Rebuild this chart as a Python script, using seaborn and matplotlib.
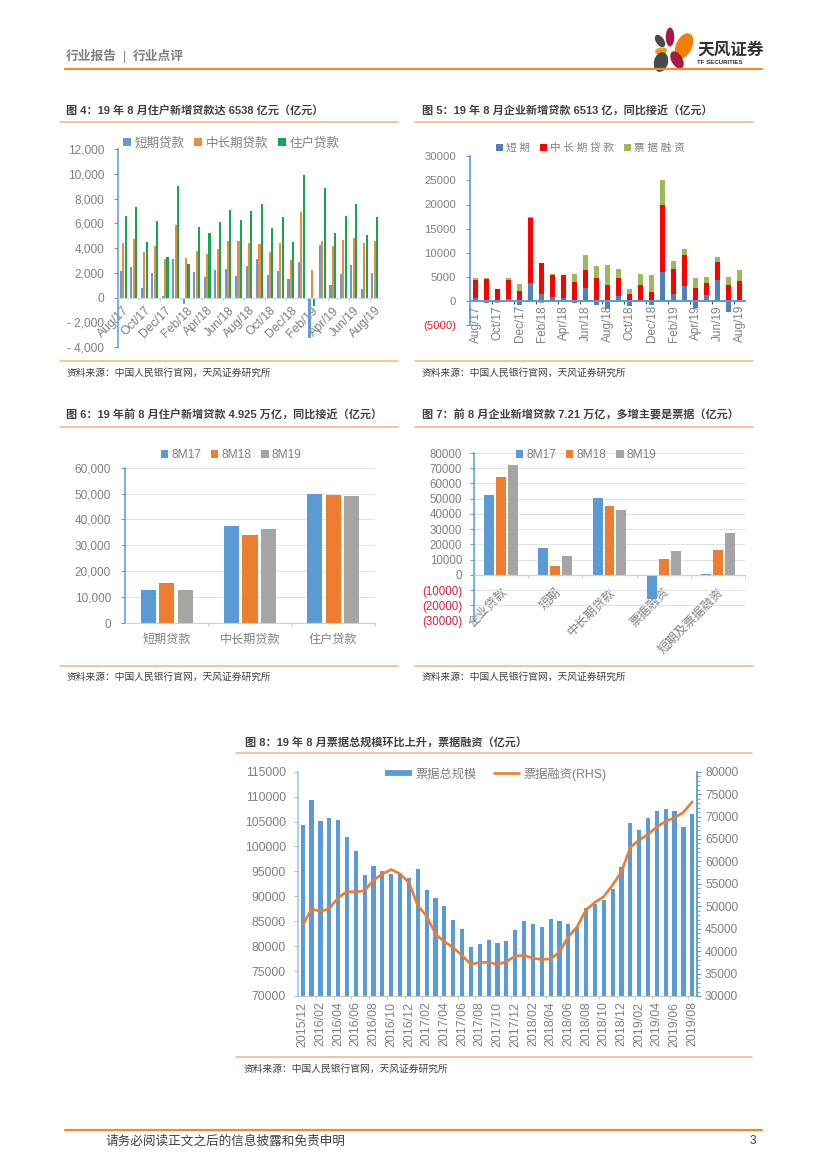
import numpy as np
import pandas as pd
import matplotlib
matplotlib.use("Agg")
import matplotlib.pyplot as plt
import seaborn as sns
from matplotlib.lines import Line2D
from matplotlib.patches import Ellipse, Patch
from matplotlib.ticker import FixedLocator, FuncFormatter, NullFormatter

# ---------- data ----------
months_25 = ["Aug/17", "Sep/17", "Oct/17", "Nov/17", "Dec/17", "Jan/18", "Feb/18", "Mar/18", "Apr/18",
             "May/18", "Jun/18", "Jul/18", "Aug/18", "Sep/18", "Oct/18", "Nov/18", "Dec/18", "Jan/19",
             "Feb/19", "Mar/19", "Apr/19", "May/19", "Jun/19", "Jul/19", "Aug/19"]
f4_short = [2150, 2500, 800, 2000, 150, 3100, -500, 2050, 1700, 2200, 2350, 1750, 2550, 3100, 1850, 2150,
            1500, 2900, -3300, 4250, 1050, 1900, 2650, 700, 2000]
f4_mid = [4450, 4750, 3700, 4150, 3100, 5900, 3200, 3750, 3550, 3900, 4600, 4550, 4400, 4300, 3700, 4400,
          3050, 6950, 2200, 4600, 4150, 4650, 4850, 4400, 4550]
f4_house = [6600, 7350, 4500, 6200, 3250, 9000, 2700, 5750, 5250, 6100, 7050, 6300, 7000, 7550, 5600, 6550,
            4500, 9900, -700, 8900, 5250, 6600, 7600, 5100, 6538]
f4_names = ["短期贷款", "中长期贷款", "住户贷款"]

f5_short = [600, -500, 100, 300, -900, 3700, 1400, 900, 600, -500, 2700, -900, -1700, 1100, -1000, 200,
            -800, 6000, 1500, 3100, -1400, 1200, 4400, -2200, -300]
f5_mid = [3700, 4500, 2300, 4000, 2000, 13400, 6500, 4500, 4700, 4000, 3800, 4700, 3300, 3700, 1400, 3100,
          1900, 13900, 5100, 6400, 2700, 2500, 3700, 3400, 4100]
f5_bill = [400, 200, -400, 500, 1500, 300, -400, 100, 100, 1500, 3000, 2500, 4200, 1800, 1000, 2300,
           3400, 5100, 1700, 1200, 2000, 1200, 1000, 1500, 2400]
f5_names = ["短 期", "中 长 期 贷 款", "票 据 融 资"]

periods = ["8M17", "8M18", "8M19"]
f6_cats = ["短期贷款", "中长期贷款", "住户贷款"]
f6_8m17 = [12800, 37300, 50000]
f6_8m18 = [15300, 34000, 49500]
f6_8m19 = [12700, 36500, 49250]

f7_cats = ["企业贷款", "短期", "中长期贷款", "票据融资", "短期及票据融资"]
f7_8m17 = [52500, 18000, 50200, -16000, 500]
f7_8m18 = [64500, 6200, 45500, 10500, 16500]
f7_8m19 = [72100, 12300, 42800, 15500, 27800]

months_45 = ["2015/12", "2016/01", "2016/02", "2016/03", "2016/04", "2016/05", "2016/06", "2016/07", "2016/08",
             "2016/09", "2016/10", "2016/11", "2016/12", "2017/01", "2017/02", "2017/03", "2017/04", "2017/05",
             "2017/06", "2017/07", "2017/08", "2017/09", "2017/10", "2017/11", "2017/12", "2018/01", "2018/02",
             "2018/03", "2018/04", "2018/05", "2018/06", "2018/07", "2018/08", "2018/09", "2018/10", "2018/11",
             "2018/12", "2019/01", "2019/02", "2019/03", "2019/04", "2019/05", "2019/06", "2019/07", "2019/08"]
f8_total = [104300, 109400, 105100, 105700, 105400, 101800, 99000, 94200, 96000, 95100, 94400, 94500, 93700,
            95400, 91200, 89600, 88000, 85300, 83500, 79900, 80400, 81200, 80700, 81100, 83200, 85000, 84400,
            83900, 85400, 85000, 84400, 83900, 87700, 88500, 89200, 91400, 95800, 104800, 103400, 105700,
            107200, 107600, 107200, 104000, 106500]
f8_fin = [45800, 49460, 48800, 49500, 51900, 53300, 53200, 53500, 55850, 57200, 58200, 57200, 55260, 50100,
          47800, 43800, 42100, 40800, 39000, 37050, 37500, 37500, 37050, 37650, 38900, 39100, 38400, 38170,
          38250, 39800, 43200, 45450, 49200, 50900, 52150, 54750, 57700, 63100, 64800, 66000, 67750, 68900,
          69750, 70950, 73300]
f8_names = ["票据总规模", "票据融资(RHS)"]

titles = {
    "f4": "图 4：19 年 8 月住户新增贷款达 6538 亿元（亿元）",
    "f5": "图 5：19 年 8 月企业新增贷款 6513 亿，同比接近（亿元）",
    "f6": "图 6：19 年前 8 月住户新增贷款 4.925 万亿，同比接近（亿元）",
    "f7": "图 7：前 8 月企业新增贷款 7.21 万亿，多增主要是票据（亿元）",
    "f8": "图 8：19 年 8 月票据总规模环比上升，票据融资（亿元）",
}
source = "资料来源：中国人民银行官网，天风证券研究所"

# ---------- style ----------
sns.set_theme(style="white")
plt.rcParams["font.family"] = ["Liberation Sans", "Noto Sans CJK SC", "DejaVu Sans"]
plt.rcParams["axes.unicode_minus"] = False

W, H = 827, 1169
GREY = "#808080"
DARK = "#404040"
BLUE = "#5B9BD5"
ORANGE = "#ED7D31"
LINE = "#F4B183"

fig = plt.figure(figsize=(W / 100, H / 100), dpi=100, facecolor="white")


def make_axes(x0, y0, x1, y1):
    ax = fig.add_axes([x0 / W, 1 - y1 / H, (x1 - x0) / W, (y1 - y0) / H])
    ax.patch.set_alpha(0)
    for s in ax.spines.values():
        s.set_visible(False)
    ax.set_xlabel("")
    ax.set_ylabel("")
    return ax


def txt(x, y, s, **kw):
    fig.text(x / W, 1 - y / H, s, va="center", **kw)


def rule(x0, x1, y, color=LINE, lw=1.1):
    fig.add_artist(Line2D([x0 / W, x1 / W], [1 - y / H, 1 - y / H], color=color, lw=lw,
                          transform=fig.transFigure))


def panel(x0, x1, title_x, title_y, top, bottom, src_x, src_y, title):
    txt(title_x, title_y, title, fontsize=8.0, fontweight="bold", color=DARK)
    rule(x0, x1, top)
    rule(x0, x1, bottom)
    txt(src_x, src_y, source, fontsize=7.0, color=DARK)


def cat_axis(ax, labels, step, rot, size, spine_color, at_zero=True, lw=0.8, tick_color=None, pad=2):
    n = len(labels)
    ax.set_xlim(-0.5, n - 0.5)
    if at_zero:
        ax.spines["bottom"].set_position(("data", 0))
    ax.spines["bottom"].set_visible(True)
    ax.spines["bottom"].set_color(spine_color)
    ax.spines["bottom"].set_linewidth(lw)
    pos = list(range(0, n, step))
    ax.xaxis.set_major_locator(FixedLocator(pos))
    ax.set_xticklabels([labels[i] for i in pos])
    ax.xaxis.set_minor_locator(FixedLocator([p - 0.5 for p in pos[1:]] + [n - 0.5] if step == 1
                                            else [p - 0.5 for p in pos[1:]]))
    ax.xaxis.set_minor_formatter(NullFormatter())
    ax.tick_params(axis="x", which="major", length=0, pad=pad, labelsize=size, labelcolor=GREY)
    ax.tick_params(axis="x", which="minor", length=2.2, width=0.7, color=tick_color or spine_color,
                   bottom=True, direction="out")
    for t in ax.get_xticklabels():
        if rot == 90:
            t.set(rotation=90, ha="center", va="top")
        elif rot:
            t.set(rotation=rot, ha="right", va="top", rotation_mode="anchor")


def val_axis(ax, lo, hi, step, size, color=BLUE, lw=1.1, fmt=None, grid=False, pad=7):
    ax.set_ylim(lo, hi)
    ax.yaxis.set_major_locator(FixedLocator(np.arange(lo, hi + 1, step)))
    ax.yaxis.set_major_formatter(FuncFormatter(fmt))
    ax.spines["left"].set_visible(True)
    ax.spines["left"].set_color(color)
    ax.spines["left"].set_linewidth(lw)
    ax.tick_params(axis="y", which="major", left=True, length=3, width=0.7, color=color,
                   labelsize=size, labelcolor=GREY, pad=pad)
    if grid:
        ax.yaxis.grid(True, color="#E4E4E4", lw=0.8)
        ax.set_axisbelow(True)


def comma(v, _=None):
    v = int(round(v))
    return f"- {abs(v):,}" if v < 0 else f"{v:,}"


def paren(v, _=None):
    v = int(round(v))
    return f"({abs(v)})" if v < 0 else f"{v}"


def grouped(ax, cats, series, names, colors, width, gap):
    df = pd.DataFrame({"cat": list(cats) * len(names),
                       "name": np.repeat(names, len(cats)),
                       "value": np.concatenate(series)})
    sns.barplot(data=df, x="cat", y="value", hue="name", order=list(cats), hue_order=names,
                palette=colors, width=width, gap=gap, dodge=True, errorbar=None, saturation=1,
                linewidth=0, legend=False, ax=ax)
    ax.set_xlabel("")
    ax.set_ylabel("")


def legend(ax, names, colors, anchor, size, **kw):
    handles = [Patch(facecolor=c, edgecolor="none") for c in colors]
    opts = dict(loc="center", ncol=len(names), frameon=False, fontsize=size, labelcolor=GREY,
                handlelength=0.65, handleheight=0.65, handletextpad=0.25, columnspacing=0.8,
                borderpad=0, borderaxespad=0, bbox_transform=fig.transFigure)
    opts.update(kw)
    ax.legend(handles, names, bbox_to_anchor=(anchor[0] / W, 1 - anchor[1] / H), **opts)


# ---------- header / footer ----------
txt(66, 57, "行业报告", fontsize=9.2, fontweight="bold", color="#7F7F7F")
txt(123, 57, "|", fontsize=9.2, color="#7F7F7F")
txt(133, 57, "行业点评", fontsize=9.2, fontweight="bold", color="#7F7F7F")
rule(65, 762, 69, color="#ED8B33", lw=1.6)
rule(65, 762, 1130, color="#ED8B33", lw=1.6)
txt(105, 1141, "请务必阅读正文之后的信息披露和免责申明", fontsize=9.1, color=DARK)
txt(749.5, 1141, "3", fontsize=8.5, color=DARK)

logo = fig.add_axes([0, 0, 1, 1])
logo.set_xlim(0, W)
logo.set_ylim(H, 0)
logo.axis("off")
logo.patch.set_alpha(0)
for cx, cy, w, h, ang, col in [(670, 37, 8.5, 19, 0, "#A51C40"), (684, 46, 16, 27, 25, "#EE7F00"),
                               (660, 41, 8, 14, -35, "#4A4A4A"), (661, 51, 12, 7, -10, "#EE9A1A"),
                               (677, 60, 11, 19, -30, "#A51C40"), (661, 62, 14, 20, 15, "#4A4A4A")]:
    logo.add_patch(Ellipse((cx, cy), w, h, angle=ang, facecolor=col, edgecolor="none"))
txt(697, 50, "天风证券", fontsize=12, fontweight="bold", color="#333333")
txt(697, 63, "TF SECURITIES", fontsize=4.4, fontweight="bold", color="#333333")

# ---------- figure 4 ----------
panel(60, 398, 66, 110, 122, 361, 67, 372.5, titles["f4"])
c4 = ["#6A9BD0", "#ED8B45", "#12A850"]
ax = make_axes(118, 149.3, 380, 347)
grouped(ax, months_25, [f4_short, f4_mid, f4_house], f4_names, c4, 0.68, 0.12)
cat_axis(ax, months_25, 2, 45, 8.8, "#C9D6DF", pad=5)
val_axis(ax, -4000, 12000, 2000, 8.6, fmt=comma)
legend(ax, f4_names, c4, (231, 143.5), 9)

# ---------- figure 5 (stacked: positives upward, negatives downward) ----------
panel(415, 753, 422, 110, 122, 361, 422, 372.5, titles["f5"])
c5 = ["#4F81BD", "#FF0000", "#9BBB59"]
ax = make_axes(470, 156.3, 745, 325)
pos_base = np.zeros(len(months_25))
neg_base = np.zeros(len(months_25))
for vals, name, col in zip([f5_short, f5_mid, f5_bill], f5_names, c5):
    v = np.array(vals, dtype=float)
    base = np.where(v >= 0, pos_base, neg_base)
    sns.barplot(x=months_25, y=v, order=months_25, color=col, width=0.4, bottom=base,
                errorbar=None, saturation=1, linewidth=0, ax=ax)
    pos_base += np.where(v > 0, v, 0)
    neg_base += np.where(v < 0, v, 0)
cat_axis(ax, months_25, 2, 90, 8.5, BLUE, lw=1.4, tick_color="#1F4E79", pad=3)
val_axis(ax, -5000, 30000, 5000, 8.1, lw=1.2, fmt=paren)
for t in ax.get_yticklabels():
    if "(" in t.get_text():
        t.set_color("#E0202A")
legend(ax, f5_names, c5, (590.5, 148), 7.6, columnspacing=1.0)

# ---------- figure 6 ----------
panel(60, 398, 66, 415, 426.7, 665.7, 67, 677, titles["f6"])
c67 = [BLUE, ORANGE, "#A5A5A5"]
ax = make_axes(125, 467.7, 375, 623)
grouped(ax, f6_cats, [f6_8m17, f6_8m18, f6_8m19], periods, c67, 0.667, 0.19)
cat_axis(ax, f6_cats, 1, 0, 8.7, "#D0D0D0", at_zero=False, pad=8)
val_axis(ax, 0, 60000, 10000, 8.5, fmt=comma, grid=True)
legend(ax, periods, c67, (231, 455.5), 8.6)

# ---------- figure 7 ----------
panel(415, 753, 422, 415, 426.7, 665.7, 422, 677, titles["f7"])
ax = make_axes(474, 453, 745, 620.7)
grouped(ax, f7_cats, [f7_8m17, f7_8m18, f7_8m19], periods, c67, 0.664, 0.167)
cat_axis(ax, f7_cats, 1, 45, 8.9, "#D0D0D0", pad=8)
val_axis(ax, -30000, 80000, 10000, 8.3, fmt=paren, grid=True, pad=5.5)
for t in ax.get_yticklabels():
    if "(" in t.get_text():
        t.set_color("#D0213C")
legend(ax, periods, c67, (586, 455.5), 8.6)

# ---------- figure 8 ----------
panel(236, 752, 245, 742, 753, 1057, 244, 1069, titles["f8"])
ax = make_axes(298.3, 771.7, 696.7, 996)
sns.barplot(x=months_45, y=f8_total, order=months_45, color=BLUE, width=0.47,
            errorbar=None, saturation=1, linewidth=0, ax=ax)
cat_axis(ax, months_45, 2, 90, 8.9, "#C8C8C8", at_zero=False, pad=4)
val_axis(ax, 70000, 115000, 5000, 8.8, color="#9DC3E6", fmt=lambda v, _=None: f"{int(v)}", pad=6)

ax2 = ax.twinx()
ax2.patch.set_alpha(0)
for s in ax2.spines.values():
    s.set_visible(False)
sns.lineplot(x=np.arange(len(months_45)), y=f8_fin, color=ORANGE, lw=1.9, errorbar=None, ax=ax2)
ax2.set_xlim(-0.5, len(months_45) - 0.5)
ax2.set_ylim(30000, 80000)
ax2.spines["right"].set_visible(True)
ax2.spines["right"].set_color(BLUE)
ax2.spines["right"].set_linewidth(1.3)
ax2.yaxis.set_major_locator(FixedLocator(np.arange(30000, 80001, 5000)))
ax2.yaxis.set_minor_locator(FixedLocator(np.arange(30000, 80001, 1000)))
ax2.yaxis.set_major_formatter(FuncFormatter(lambda v, _=None: f"{int(v)}"))
ax2.tick_params(axis="y", which="major", right=True, length=3, width=0.8, color=BLUE,
                labelsize=8.6, labelcolor=GREY, pad=3)
ax2.tick_params(axis="y", which="minor", right=True, length=2, width=0.6, color=BLUE)
ax2.set_xlabel("")
ax2.set_ylabel("")
handles8 = [Line2D([], [], color=BLUE, lw=4.2, solid_capstyle="butt"),
            Line2D([], [], color=ORANGE, lw=1.9, solid_capstyle="butt")]
ax2.legend(handles8, f8_names, loc="center", ncol=2, frameon=False,
           fontsize=8.8, labelcolor=GREY, handlelength=2.2, handletextpad=0.3, columnspacing=1.3,
           borderpad=0, borderaxespad=0, bbox_to_anchor=(496 / W, 1 - 774 / H),
           bbox_transform=fig.transFigure)

fig.savefig("out.png", dpi=100, facecolor="white")
